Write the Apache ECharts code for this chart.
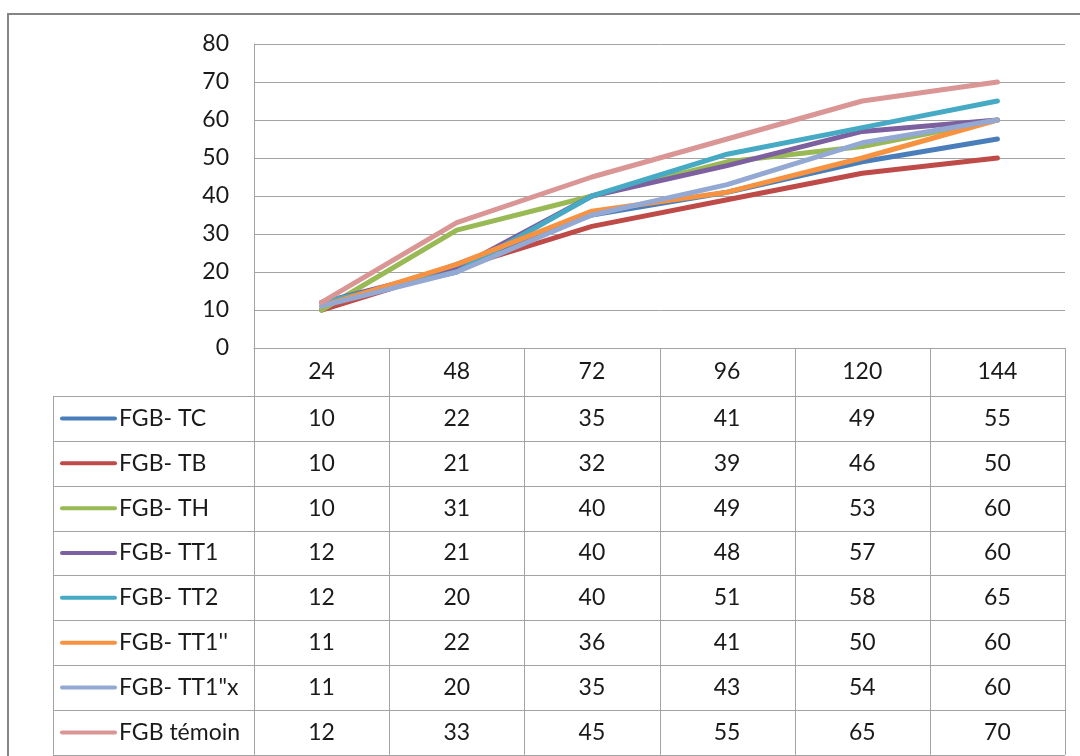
<!DOCTYPE html>
<html>
<head>
<meta charset="utf-8">
<script src="https://cdn.jsdelivr.net/npm/echarts@6/dist/echarts.min.js"></script>
<style>
  html, body { margin: 0; padding: 0; background: #fff; }
  #chart { width: 1080px; height: 756px; }
</style>
</head>
<body>
<div id="chart"></div>
<script>
// Hours of culture
const categories = ['24', '48', '72', '96', '120', '144'];

const seriesNames = ['FGB- TC', 'FGB- TB', 'FGB- TH', 'FGB- TT1', 'FGB- TT2', "FGB- TT1''", 'FGB- TT1"x', 'FGB témoin'];

const fgbTC     = [10, 22, 35, 41, 49, 55];
const fgbTB     = [10, 21, 32, 39, 46, 50];
const fgbTH     = [10, 31, 40, 49, 53, 60];
const fgbTT1    = [12, 21, 40, 48, 57, 60];
const fgbTT2    = [12, 20, 40, 51, 58, 65];
const fgbTT1b   = [11, 22, 36, 41, 50, 60];
const fgbTT1x   = [11, 20, 35, 43, 54, 60];
const fgbTemoin = [12, 33, 45, 55, 65, 70];

const yTicks = [0, 10, 20, 30, 40, 50, 60, 70, 80];

const seriesData = [fgbTC, fgbTB, fgbTH, fgbTT1, fgbTT2, fgbTT1b, fgbTT1x, fgbTemoin];
const colors = ['#4a7ebb', '#be4b48', '#98b954', '#7d60a0', '#46aac5', '#f69240', '#93a9d3', '#d99694'];

const FONT = 'Lato, "Open Sans", sans-serif';
const FONT_SIZE = 23;
const TEXT_COLOR = '#1a1a1a';
const LINE_GRAY = '#a3a3a3';

const GRID = { left: 254, top: 44, width: 811, height: 304 };
const TABLE_LEFT = 53;
const HEADER_BOTTOM = 396;
const ROW_H = 44.85;

const chart = echarts.init(document.getElementById('chart'), null, { renderer: 'canvas' });

const option = {
  animation: false,
  backgroundColor: '#fff',
  grid: GRID,
  xAxis: {
    type: 'category',
    data: categories,
    boundaryGap: true,
    axisLine: { show: true, lineStyle: { color: LINE_GRAY, width: 1 } },
    axisTick: { show: false },
    axisLabel: { margin: 12, fontSize: FONT_SIZE, fontFamily: FONT, color: TEXT_COLOR },
    splitLine: { show: false }
  },
  yAxis: {
    type: 'value',
    min: yTicks[0],
    max: yTicks[yTicks.length - 1],
    interval: yTicks[1] - yTicks[0],
    axisLine: { show: true, lineStyle: { color: LINE_GRAY, width: 1 } },
    axisTick: { show: false },
    axisLabel: { margin: 25, fontSize: FONT_SIZE, fontFamily: FONT, color: TEXT_COLOR },
    splitLine: { show: true, lineStyle: { color: LINE_GRAY, width: 1 } }
  },
  series: seriesNames.map((name, i) => ({
    name: name,
    type: 'line',
    data: seriesData[i],
    symbol: 'none',
    lineStyle: { color: colors[i], width: 5, cap: 'round', join: 'round' },
    itemStyle: { color: colors[i] },
    z: 2 + i
  }))
};

chart.setOption(option);

// Data table under the plot: columns follow the category axis
const gridRight = GRID.left + GRID.width;
const nRows = seriesNames.length;
const tableBottom = HEADER_BOTTOM + ROW_H * nRows;
const bandW = GRID.width / categories.length;
const elements = [];

// outer chart frame
elements.push({
  type: 'polyline',
  shape: { points: [[8, 800], [8, 14], [1100, 14]] },
  style: { stroke: '#858585', lineWidth: 2, fill: null },
  silent: true
});

// vertical column lines from the axis down to the table bottom
for (let k = 0; k <= categories.length; k++) {
  const x = Math.round(GRID.left + k * bandW) + 0.5;
  elements.push({
    type: 'line',
    shape: { x1: x, y1: GRID.top + GRID.height, x2: x, y2: tableBottom },
    style: { stroke: LINE_GRAY, lineWidth: 1 },
    silent: true
  });
}
// left edge of the legend column
elements.push({
  type: 'line',
  shape: { x1: TABLE_LEFT + 0.5, y1: HEADER_BOTTOM, x2: TABLE_LEFT + 0.5, y2: tableBottom },
  style: { stroke: LINE_GRAY, lineWidth: 1 },
  silent: true
});
// horizontal row lines
for (let r = 0; r <= nRows; r++) {
  const y = Math.round(HEADER_BOTTOM + r * ROW_H) + 0.5;
  elements.push({
    type: 'line',
    shape: { x1: TABLE_LEFT, y1: y, x2: gridRight, y2: y },
    style: { stroke: LINE_GRAY, lineWidth: 1 },
    silent: true
  });
}

for (let r = 0; r < nRows; r++) {
  const cy = HEADER_BOTTOM + r * ROW_H + ROW_H / 2;
  // legend key
  elements.push({
    type: 'line',
    shape: { x1: 62, y1: cy, x2: 115, y2: cy },
    style: { stroke: colors[r], lineWidth: 4, lineCap: 'round' },
    silent: true
  });
  elements.push({
    type: 'text',
    x: 119, y: cy,
    style: { text: seriesNames[r], fontSize: FONT_SIZE, fontFamily: FONT, fill: TEXT_COLOR, verticalAlign: 'middle', align: 'left' },
    silent: true
  });
  // values
  for (let c = 0; c < categories.length; c++) {
    const cx = chart.convertToPixel({ xAxisIndex: 0 }, c);
    elements.push({
      type: 'text',
      x: cx, y: cy,
      style: { text: String(seriesData[r][c]), fontSize: FONT_SIZE, fontFamily: FONT, fill: TEXT_COLOR, verticalAlign: 'middle', align: 'center' },
      silent: true
    });
  }
}

chart.setOption({ graphic: { elements: elements } });
</script>
</body>
</html>
